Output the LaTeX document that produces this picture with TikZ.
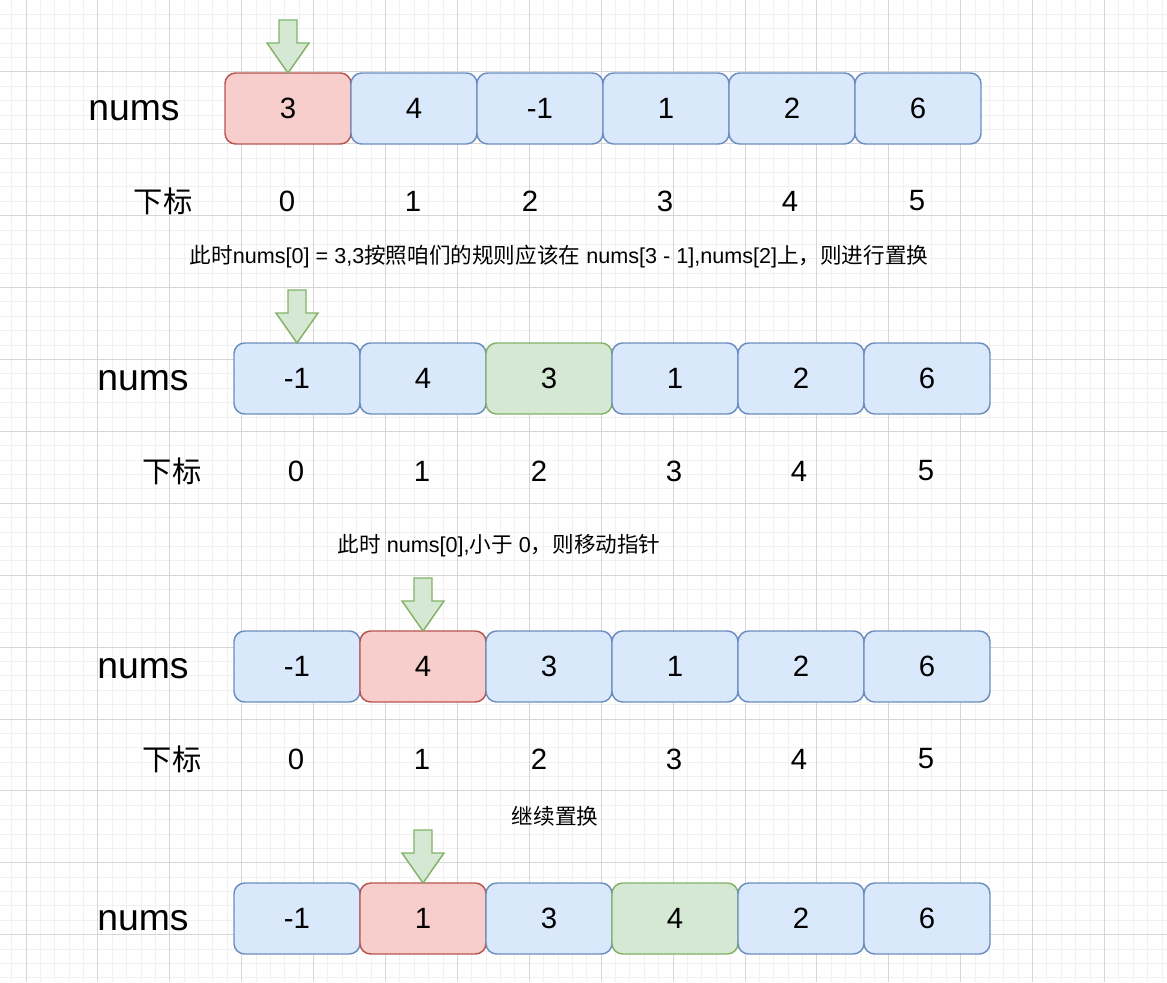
\documentclass[tikz,border=0pt]{standalone}
\usepackage{fontspec}
\setmainfont{Liberation Sans}
\newfontfamily\cjk{Noto Sans CJK SC}
\definecolor{fillblue}{HTML}{DAE8FC}
\definecolor{lineblue}{HTML}{6C8EBF}
\definecolor{fillred}{HTML}{F8CECC}
\definecolor{linered}{HTML}{B85450}
\definecolor{fillgreen}{HTML}{D5E8D4}
\definecolor{linegreen}{HTML}{82B366}
\definecolor{gridminor}{HTML}{F1F1F1}
\definecolor{gridmajor}{HTML}{D6D6D6}
\tikzset{
  cell/.style={draw=line#1, fill=fill#1, rounded corners=8pt, line width=1.1pt,
    minimum width=94.5pt, minimum height=53.25pt, inner sep=0pt, outer sep=0pt,
    font=\fontsize{22}{26}\selectfont},
  rowname/.style={font=\fontsize{28}{32}\selectfont, inner sep=0pt},
  idx/.style={font=\fontsize{22}{26}\selectfont, inner sep=0pt},
  note/.style={font=\fontsize{16.2}{19}\selectfont, inner sep=0pt},
  pointer/.style={draw=linegreen, fill=fillgreen, line width=1.1pt, line join=miter}
}
\newcommand{\pointat}[1]{\draw[pointer] (#1.north) -- ++(-21,-30) -- ++(12,0) -- ++(0,-23)
  -- ++(18,0) -- ++(0,23) -- ++(12,0) -- cycle;}

\begin{document}
\begin{tikzpicture}[x=0.75pt,y=-0.75pt]
\useasboundingbox (0,0) rectangle (1167,982);
\fill[white] (0,0) rectangle (1167,982);
% grid
\foreach \k in {0,...,81}
{       \draw[gridminor, line width=0.75pt] ({11.62+14.38*\k},0) -- ++(0,982);
}
\foreach \k in {1,...,68}
{       \draw[gridminor, line width=0.75pt] (0,{14.38*\k}) -- ++(1167,0);
}
\foreach \k in {0,...,16}
{       \draw[gridmajor, line width=0.75pt] ({26+71.9*\k},0) -- ++(0,982);
}
\foreach \k in {1,...,13}
{       \draw[gridmajor, line width=0.75pt] (0,{71.9*\k}) -- ++(1167,0);
}

% row 1
\node[rowname] (nums1) at (134,111) {nums};
\foreach \v/\c [count=\i from 0] in {3/red,4/blue,-1/blue,1/blue,2/blue,6/blue}
{       \node[cell=\c] (r1c\i) at ({288+126*\i},108.5) {\v};
}
\node[idx] (sub1) at (163,201) {\cjk 下标};
\foreach \x [count=\i from 0] in {287,413,530,665,790,917}
{       \node[idx] (i1c\i) at (\x,201) {\i};
}
\pointat{r1c0}
\node[note] (note1) at (559,257) {{\cjk 此时}nums[0] = 3,3{\cjk 按照咱们的规则应该在} nums[3 - 1],nums[2]{\cjk 上，则进行置换}};

% row 2
\node[rowname] (nums2) at (143,381) {nums};
\foreach \v/\c [count=\i from 0] in {-1/blue,4/blue,3/green,1/blue,2/blue,6/blue}
{       \node[cell=\c] (r2c\i) at ({297+126*\i},378.5) {\v};
}
\node[idx] (sub2) at (172,471) {\cjk 下标};
\foreach \x [count=\i from 0] in {296,422,539,674,799,926}
{       \node[idx] (i2c\i) at (\x,471) {\i};
}
\pointat{r2c0}
\node[note] (note2) at (499,546) {{\cjk 此时} nums[0],{\cjk 小于} 0{\cjk ，则移动指针}};

% row 3
\node[rowname] (nums3) at (143,669) {nums};
\foreach \v/\c [count=\i from 0] in {-1/blue,4/red,3/blue,1/blue,2/blue,6/blue}
{       \node[cell=\c] (r3c\i) at ({297+126*\i},666.5) {\v};
}
\node[idx] (sub3) at (172,759) {\cjk 下标};
\foreach \x [count=\i from 0] in {296,422,539,674,799,926}
{       \node[idx] (i3c\i) at (\x,759) {\i};
}
\pointat{r3c1}
\node[note] (note3) at (555,816) {\cjk 继续置换};

% row 4
\node[rowname] (nums4) at (143,921) {nums};
\foreach \v/\c [count=\i from 0] in {-1/blue,1/red,3/blue,4/green,2/blue,6/blue}
{       \node[cell=\c] (r4c\i) at ({297+126*\i},918.5) {\v};
}
\pointat{r4c1}
\end{tikzpicture}
\end{document}
